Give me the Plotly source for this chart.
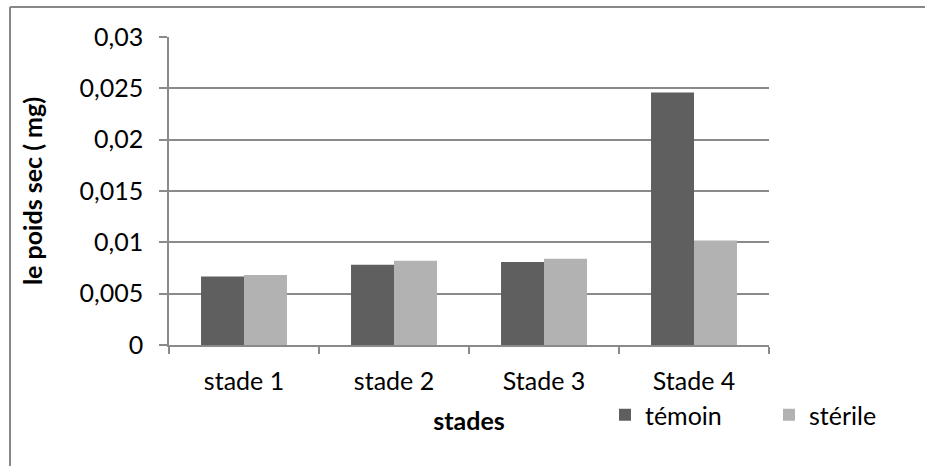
import plotly.graph_objects as go

categories = ["stade 1", "stade 2", "Stade 3", "Stade 4"]
temoin = [0.00668, 0.00782, 0.00808, 0.0246]
sterile = [0.00681, 0.00821, 0.00841, 0.01017]
y_ticks = [0, 0.005, 0.01, 0.015, 0.02, 0.025, 0.03]

FONT = "Lato, Open Sans, sans-serif"
FS = 25
W, H = 925, 466
L, R, T, B = 169, 156, 37, 121
pw, ph = W - L - R, H - T - B

fig = go.Figure()
fig.add_trace(go.Bar(x=categories, y=temoin, name="témoin",
                     marker=dict(color="#5f5f5f", line=dict(width=0))))
fig.add_trace(go.Bar(x=categories, y=sterile, name="stérile",
                     marker=dict(color="#b2b2b2", line=dict(width=0))))

def px_x(p):
    return (p - L) / pw

def px_y(p):
    return (H - B - p) / ph

fig.update_layout(
    width=W, height=H,
    margin=dict(l=L, r=R, t=T, b=B, autoexpand=False),
    paper_bgcolor="white", plot_bgcolor="white",
    separators=", ",
    barmode="group", bargap=0.427, bargroupgap=0,
    font=dict(family=FONT, size=FS, color="#000000"),
    showlegend=True,
    legend=dict(orientation="h", x=px_x(605), y=px_y(392), xanchor="left", yanchor="top",
                font=dict(size=FS), entrywidth=119, itemwidth=30,
                bgcolor="rgba(0,0,0,0)"),
    xaxis=dict(showline=True, linecolor="#8a8a8a", linewidth=1.5,
               ticks="outside", tickson="boundaries", ticklen=7, tickcolor="#8a8a8a", tickwidth=1.5,
               ticklabelstandoff=13,
               showgrid=False,
               title=dict(text="<b>stades</b>", font=dict(size=FS), standoff=19)),
    yaxis=dict(range=[0, 0.03], tickvals=y_ticks,
               showline=True, linecolor="#8a8a8a", linewidth=1.5,
               ticks="outside", ticklen=8, tickcolor="#8a8a8a", tickwidth=1.5,
               ticklabelstandoff=11,
               showgrid=True, gridcolor="#8a8a8a", gridwidth=1.5, zeroline=False,
               title=dict(text="<b>le poids sec ( mg)</b>", font=dict(size=FS), standoff=30)),
    shapes=[
        dict(type="line", xref="paper", yref="paper", x0=px_x(10), x1=px_x(940),
             y0=px_y(7), y1=px_y(7), line=dict(color="#888888", width=2)),
        dict(type="line", xref="paper", yref="paper", x0=px_x(10), x1=px_x(10),
             y0=px_y(7), y1=px_y(480), line=dict(color="#888888", width=2)),
    ],
)

fig.write_html("out.html", config={"displayModeBar": False},
               post_script="document.body.style.margin='0';document.body.style.overflow='hidden';")
